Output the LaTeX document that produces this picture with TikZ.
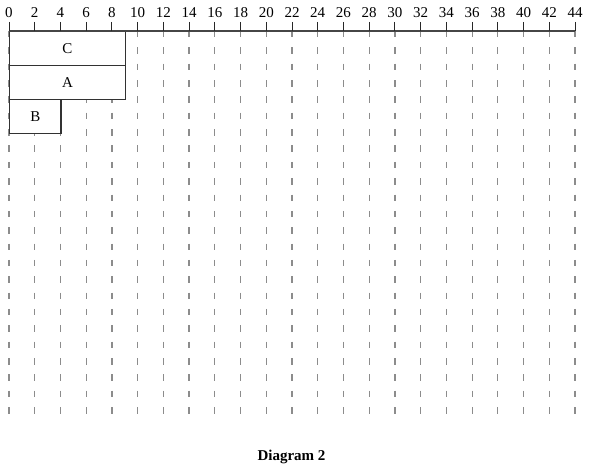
\documentclass[tikz,border=0pt]{standalone}
\usepackage{fontspec}
\setmainfont{Liberation Serif}
\begin{document}
\begin{tikzpicture}[x=1pt,y=-1pt,
  lbl/.style={font=\fontsize{15}{18}\selectfont, inner sep=0pt},
  gridline/.style={draw={rgb,255:red,140;green,140;blue,140}, line width=1.2pt, dash pattern=on 6.5pt off 9.85pt},
  axisline/.style={draw={rgb,255:red,70;green,70;blue,70}, line width=1.1pt},
  tickline/.style={draw={rgb,255:red,40;green,40;blue,40}, line width=1pt},
  barbox/.style={draw={rgb,255:red,50;green,50;blue,50}, line width=1.1pt, fill=white, rectangle, inner sep=0pt, anchor=north west, minimum height=34pt, font=\fontsize{15}{18}\selectfont}]
\useasboundingbox (0,0) rectangle (594,468);
\def\U{12.864}
\foreach \k in {0,2,...,44}{
  \pgfmathsetmacro\X{9+\k*\U}
  \draw[gridline] (\X,31) -- (\X,414);
}
\node[barbox, minimum width=9*\U pt] (C) at (9,31) {C};
\node[barbox, minimum width=9*\U pt] (A) at (9,65) {A};
\node[barbox, minimum width=4*\U pt] (B) at (9,99) {B};
\coordinate (a0) at (9,31);
\coordinate (a1) at (575,31);
\draw[axisline] (a0) -- (a1);
\foreach \k in {0,2,...,44}{
  \pgfmathsetmacro\X{9+\k*\U}
  \draw[tickline] (\X,22) -- (\X,31);
  \node[lbl] (l\k) at (\X,13) {\k};
}
\node[lbl, font=\fontsize{15}{18}\selectfont\bfseries, anchor=base] (title) at (291.5,460.5) {Diagram 2};
\end{tikzpicture}
\end{document}
